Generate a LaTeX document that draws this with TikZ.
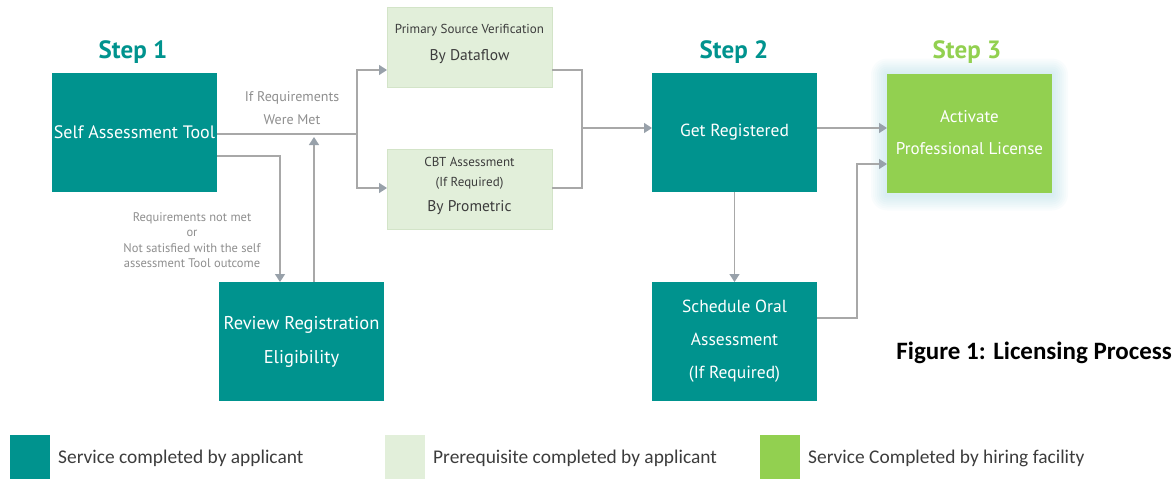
\documentclass[tikz,border=0pt]{standalone}
\usepackage{fontspec}
\setmainfont{PT Sans}
\newfontfamily\calfont{Carlito}
\usetikzlibrary{arrows.meta,calc,backgrounds}
\definecolor{tealA}{HTML}{00938E}
\definecolor{paleA}{HTML}{E2EFDA}
\definecolor{paleB}{HTML}{D3E4C8}
\definecolor{limeA}{HTML}{92D050}
\definecolor{lineA}{HTML}{A8A8A8}
\definecolor{tipA}{HTML}{98A1AA}
\definecolor{lblA}{HTML}{8E8E8E}
\definecolor{darkA}{HTML}{3C3C3C}
\definecolor{glowA}{HTML}{9CD2DE}
\tikzset{
  bigbox/.style={rectangle, minimum width=165pt, minimum height=119pt, inner sep=0pt, outer sep=0pt, align=center, text=white, font=\fontsize{17.5}{33}\selectfont},
  tealbox/.style={bigbox, fill=tealA},
  limebox/.style={bigbox, fill=limeA, font=\fontsize{17}{32}\selectfont},
  palebox/.style={rectangle, minimum width=165pt, minimum height=80pt, inner sep=0pt, outer sep=0pt, fill=paleA, draw=paleB, line width=0.6pt},
  paletxt/.style={text=darkA, inner sep=0pt},
  steplbl/.style={font=\bfseries\fontsize{25}{30}\selectfont, anchor=base, inner sep=0pt},
  conn/.style={draw=lineA, line width=1.4pt},
  arr/.style={conn, -{Triangle[length=8pt,width=10pt,fill=tipA,color=tipA]}},
  greylbl/.style={text=lblA, align=center, inner sep=0pt},
  legbox/.style={rectangle, minimum width=40pt, minimum height=44pt, inner sep=0pt, outer sep=0pt, anchor=north west},
  legtxt/.style={font=\calfont\fontsize{19.4}{22}\selectfont, text=darkA, anchor=base west, inner sep=0pt},
}
\begin{document}
\begin{tikzpicture}[x=1pt,y=-1pt]
\useasboundingbox (0,0) rectangle (1174,479);

% step labels
\node[steplbl, text=tealA] (s1) at (133,58) {Step 1};
\node[steplbl, text=tealA] (s2) at (734,58) {Step 2};
\node[steplbl, text=limeA] (s3) at (967,58) {Step 3};

% main boxes
\node[tealbox, font=\fontsize{18}{33}\selectfont] (sat) at (134.5,132.5) {Self Assessment Tool};
\node[tealbox] (reg) at (734.5,132.5) {Get Registered};
\node[limebox] (act) at (969.5,133) {Activate\\Professional License};
\node[tealbox] (oral) at (734.5,341.5) {Schedule Oral\\Assessment\\(If Required)};
\node[tealbox, font=\fontsize{18.5}{34}\selectfont] (rev) at (301.5,341.5) {Review Registration\\Eligibility};

% prerequisite boxes
\node[palebox] (psv) at (469.5,47) {};
\node[paletxt, font=\fontsize{13}{15}\selectfont] (psvA) at (469.5,30) {Primary Source Verification};
\node[paletxt, font=\fontsize{15.5}{18}\selectfont] (psvB) at (469.5,57) {By Dataflow};
\node[palebox] (cbt) at (469.5,189) {};
\node[paletxt, font=\fontsize{13}{15}\selectfont] (cbtA) at (469.5,162) {CBT Assessment};
\node[paletxt, font=\fontsize{13}{15}\selectfont] (cbtB) at (469.5,183) {(If Required)};
\node[paletxt, font=\fontsize{15.5}{18}\selectfont] (cbtC) at (469.5,208) {By Prometric};

% glow behind Activate
\begin{scope}[on background layer]
\foreach \g in {2,4,...,16}
  \fill[glowA, opacity=0.06, rounded corners=\g pt]
    ($(act.south west)+(-\g,\g+2)$) rectangle ($(act.north east)+(\g,-\g+1)$);
\end{scope}

% connectors
\coordinate (br) at (357,134);
\coordinate (mg) at (582,128);
\coordinate (cr) at (857,164);
\draw[conn] (sat.east |- br) -- (br);
\draw[arr] (br) |- ($(psv.south west)+(0,-17)$);
\draw[arr] (br) |- ($(cbt.north west)+(0,39)$);
\draw[conn] ($(psv.south east)+(0,-17)$) -| (mg);
\draw[conn] ($(cbt.north east)+(0,39)$) -| (mg);
\draw[arr] (mg) -- (reg.west |- mg);
\draw[arr] (reg.east |- mg) -- (act.west |- mg);
\draw[arr] (reg.south) -- (oral.north);
\draw[arr] ($(oral.north east)+(0,36)$) -| (cr) -- (act.west |- cr);
\draw[arr] ($(sat.south east)+(0,-36)$) -| ($(rev.north west)+(61,0)$);
\coordinate (upend) at (314,137);
\draw[arr] (rev.north west -| upend) -- (upend);

% grey labels
\node[greylbl, font=\fontsize{14}{23.5}\selectfont] (met) at (292,108) {If Requirements\\Were Met};
\node[greylbl, font=\fontsize{12.5}{15.5}\selectfont] (notmet) at (192,240) {Requirements not met\\or\\Not satisfied with the self\\assessment Tool outcome};

% caption
\node[font=\calfont\bfseries\fontsize{25}{30}\selectfont, anchor=base east, inner sep=0pt] (cap) at (1172,359) {Figure 1: Licensing Process};

% legend
\node[legbox, fill=tealA] (l1) at (10,435) {};
\node[legtxt] (t1) at (58,463) {Service completed by applicant};
\node[legbox, fill=paleA] (l2) at (385,435) {};
\node[legtxt] (t2) at (433,463) {Prerequisite completed by applicant};
\node[legbox, fill=limeA] (l3) at (760,435) {};
\node[legtxt] (t3) at (808,463) {Service Completed by hiring facility};
\end{tikzpicture}
\end{document}
